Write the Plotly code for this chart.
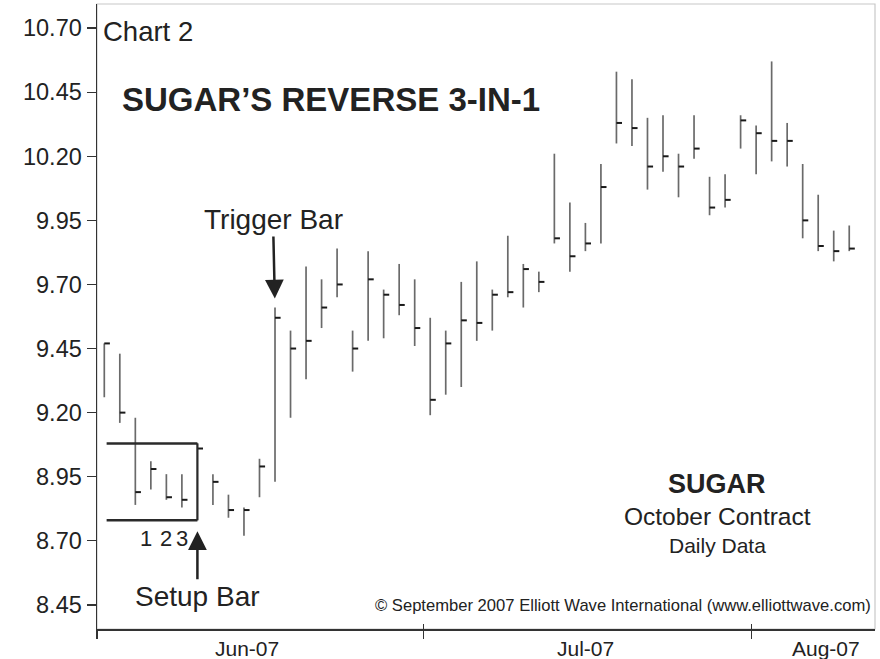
import plotly.graph_objects as go

# ---------------- data ----------------
high = [9.47, 9.43, 9.18, 9.01, 8.96, 8.96, 9.08, 8.96, 8.88, 8.83, 9.02,
        9.61, 9.52, 9.77, 9.72, 9.84, 9.52, 9.83, 9.68, 9.78, 9.72,
        9.57, 9.52, 9.71, 9.79, 9.68, 9.89, 9.78, 9.75,
        10.21, 10.02, 9.94, 10.17, 10.53, 10.50, 10.35, 10.36, 10.21, 10.36,
        10.12, 10.13, 10.36, 10.32, 10.57, 10.33, 10.17, 10.05, 9.91, 9.93]
low = [9.26, 9.16, 8.84, 8.90, 8.86, 8.83, 8.78, 8.84, 8.79, 8.72, 8.87,
       8.93, 9.18, 9.33, 9.53, 9.65, 9.36, 9.48, 9.49, 9.58, 9.46,
       9.19, 9.27, 9.30, 9.48, 9.52, 9.65, 9.61, 9.67,
       9.86, 9.75, 9.83, 9.86, 10.25, 10.24, 10.07, 10.14, 10.04, 10.19,
       9.97, 10.00, 10.23, 10.13, 10.18, 10.16, 9.88, 9.83, 9.79, 9.83]
close = [9.47, 9.20, 8.89, 8.98, 8.87, 8.86, 9.06, 8.93, 8.82, 8.82, 8.99,
         9.57, 9.45, 9.48, 9.61, 9.70, 9.45, 9.72, 9.66, 9.62, 9.53,
         9.25, 9.47, 9.56, 9.55, 9.66, 9.67, 9.76, 9.71,
         9.88, 9.81, 9.86, 10.08, 10.33, 10.31, 10.16, 10.20, 10.16, 10.23,
         10.00, 10.03, 10.34, 10.29, 10.26, 10.26, 9.95, 9.85, 9.83, 9.84]

y_ticks = [10.70, 10.45, 10.20, 9.95, 9.70, 9.45, 9.20, 8.95, 8.70, 8.45]
month_labels = ["Jun-07", "Jul-07", "Aug-07"]
setup_idx = 6
trigger_idx = 11
count_labels = ["1", "2", "3"]
count_bars = [3, 4, 5]

# ---------------- layout helpers (positions / styles) ----------------
FONT = "Liberation Sans, Arial, Helvetica, sans-serif"
TXT = "#222222"
W, H = 880, 659
ML, MR, MT, MB = 97, 5, 4, 30
x_range = [-0.47, 49.66]
y_range = [8.356, 10.794]
month_bounds = [-0.47, 20.56, 41.72]
month_label_pos = [9.2, 31.0, 46.5]

pw = W - ML - MR
ph = H - MT - MB


def px(xp):
    return (xp - ML) / pw


def py(yp):
    return (H - MB - yp) / ph


x = list(range(len(close)))

fig = go.Figure()
fig.add_trace(go.Scatter(
    x=x, y=close, mode="markers",
    marker=dict(size=1, color="rgba(0,0,0,0)"),
    error_y=dict(type="data", symmetric=False,
                 array=[h - c for h, c in zip(high, close)],
                 arrayminus=[c - l for c, l in zip(close, low)],
                 width=0, thickness=1.7, color="#6a6a6a"),
    error_x=dict(type="constant", symmetric=False, value=0.36, valueminus=0,
                 width=0, thickness=2, color="#1a1a1a"),
    hoverinfo="skip", showlegend=False))

# invisible trace to carry the inner half of the month ticks
fig.add_trace(go.Scatter(x=[month_bounds[1]], y=[close[0]], xaxis="x2",
                         mode="markers", marker=dict(size=1, color="rgba(0,0,0,0)"),
                         hoverinfo="skip", showlegend=False))

# setup box (top/bottom at the setup bar's high/low)
box_left = 0.15
for yv in (high[setup_idx], low[setup_idx]):
    fig.add_shape(type="line", x0=box_left, x1=setup_idx, y0=yv, y1=yv,
                  line=dict(color="#2a2a2a", width=2.5))
fig.add_shape(type="line", x0=setup_idx, x1=setup_idx,
              y0=low[setup_idx], y1=high[setup_idx],
              line=dict(color="#2a2a2a", width=2))

# light frame on top / right
fig.add_shape(type="rect", xref="paper", yref="paper", x0=0, x1=1, y0=0, y1=1,
              line=dict(color="#c8c8c8", width=1.2), layer="below")

ann = []
ann.append(dict(xref="paper", yref="paper", x=px(101), y=py(32), text="Chart 2",
                showarrow=False, xanchor="left", yanchor="middle",
                font=dict(size=27.5, color=TXT, family=FONT)))
ann.append(dict(xref="paper", yref="paper", x=px(120), y=py(100),
                text="<b>SUGAR\u2019S REVERSE 3-IN-1</b>",
                showarrow=False, xanchor="left", yanchor="middle",
                font=dict(size=33, color=TXT, family=FONT)))
ann.append(dict(xref="paper", yref="paper", x=px(717), y=py(484), text="<b>SUGAR</b>",
                showarrow=False, xanchor="center", yanchor="middle",
                font=dict(size=27, color=TXT, family=FONT)))
ann.append(dict(xref="paper", yref="paper", x=px(717), y=py(516), text="October Contract",
                showarrow=False, xanchor="center", yanchor="middle",
                font=dict(size=24.5, color=TXT, family=FONT)))
ann.append(dict(xref="paper", yref="paper", x=px(717), y=py(545), text="Daily Data",
                showarrow=False, xanchor="center", yanchor="middle",
                font=dict(size=21, color=TXT, family=FONT)))
ann.append(dict(xref="paper", yref="paper", x=px(873), y=py(605),
                text="\u00a9 September 2007 Elliott Wave International (www.elliottwave.com)",
                showarrow=False, xanchor="right", yanchor="middle",
                font=dict(size=16.6, color=TXT, family=FONT)))

# Trigger / Setup arrows
ann.append(dict(x=trigger_idx, y=high[trigger_idx], text="Trigger Bar",
                showarrow=True, ax=-2, ay=-88, standoff=9,
                arrowhead=2, arrowsize=1.5, arrowwidth=2.5, arrowcolor="#222222",
                font=dict(size=28, color=TXT, family=FONT)))
ann.append(dict(x=setup_idx, y=low[setup_idx], text="Setup Bar",
                showarrow=True, ax=0, ay=76, standoff=11,
                arrowhead=2, arrowsize=1.5, arrowwidth=2.5, arrowcolor="#222222",
                font=dict(size=28, color=TXT, family=FONT)))
for lab, bi in zip(count_labels, count_bars):
    ann.append(dict(x=bi, y=low[setup_idx], text=lab, showarrow=False,
                    xanchor="center", yanchor="middle", yshift=-18,
                    xshift=-5 if lab == "1" else 0,
                    font=dict(size=22, color=TXT, family=FONT)))

# month labels
for lab, pos in zip(month_labels, month_label_pos):
    ann.append(dict(x=pos, y=0, xref="x", yref="paper", text=lab, showarrow=False,
                    xanchor="center", yanchor="middle", yshift=-19,
                    font=dict(size=21, color=TXT, family=FONT)))

fig.update_layout(
    width=W, height=H,
    margin=dict(l=ML, r=MR, t=MT, b=MB, pad=0),
    paper_bgcolor="white", plot_bgcolor="white",
    annotations=ann,
    showlegend=False,
    xaxis=dict(range=x_range, tickvals=month_bounds, ticktext=["", "", ""],
               ticks="outside", ticklen=8, tickwidth=1.3, tickcolor="#333333",
               showline=True, linecolor="#333333", linewidth=1.5,
               showgrid=False, zeroline=False, fixedrange=True),
    xaxis2=dict(range=x_range, overlaying="x", side="bottom",
                tickvals=month_bounds, ticktext=["", "", ""],
                ticks="inside", ticklen=5, tickwidth=1.3, tickcolor="#333333",
                showline=False, showgrid=False, zeroline=False, fixedrange=True),
    yaxis=dict(range=y_range, tickvals=y_ticks,
               ticktext=[f"{v:.2f}" for v in y_ticks],
               ticks="outside", ticklen=9, tickwidth=1.3, tickcolor="#333333",
               showline=True, linecolor="#333333", linewidth=1.5,
               showgrid=False, zeroline=False, fixedrange=True,
               tickfont=dict(size=23.5, color=TXT, family=FONT)),
)

fig.write_html("out.html",
               config={"displayModeBar": False, "staticPlot": True},
               post_script="document.body.style.margin='0px';document.body.style.padding='0px';")
